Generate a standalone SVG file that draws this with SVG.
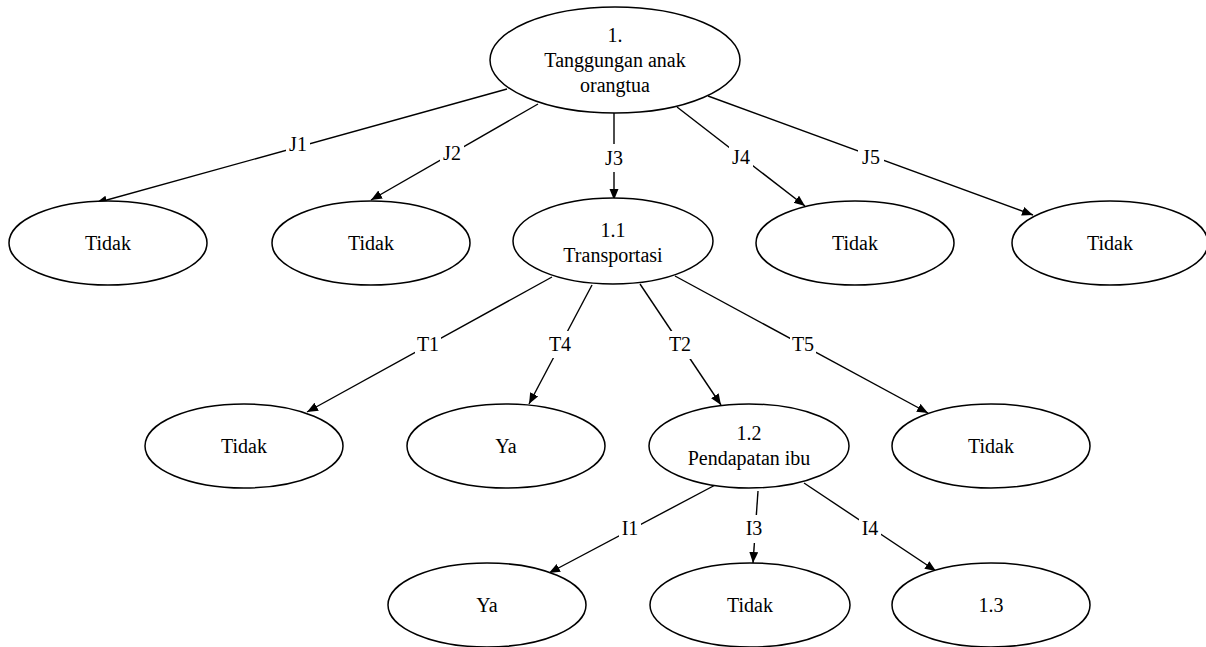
<svg xmlns="http://www.w3.org/2000/svg" width="1206" height="647" viewBox="0 0 1206 647">
<style>
.n ellipse{fill:#fff;stroke:#000;stroke-width:1.5}
text{font-family:"Liberation Serif","Times New Roman",serif;font-size:20px;fill:#000;text-anchor:middle}
.e line{stroke:#000;stroke-width:1.4;marker-end:url(#ah)}
.lb{fill:#fff}
</style>
<defs>
<marker id="ah" markerUnits="userSpaceOnUse" markerWidth="12" markerHeight="10" refX="11" refY="4.5" orient="auto">
<path d="M0,0 L11,4.5 L0,9 z" fill="#000"/>
</marker>
</defs>
<rect width="1206" height="647" fill="#fff"/>
<g id="connectors" class="e">
<line x1="507" y1="89" x2="96" y2="203"/>
<line x1="538" y1="104" x2="371" y2="200"/>
<line x1="614" y1="113" x2="614" y2="200"/>
<line x1="677" y1="107" x2="805" y2="206"/>
<line x1="708" y1="96" x2="1033" y2="215"/>
<line x1="552" y1="277" x2="307" y2="412"/>
<line x1="592" y1="285" x2="529" y2="404"/>
<line x1="640" y1="284" x2="721" y2="405"/>
<line x1="675" y1="276" x2="928" y2="413"/>
<line x1="719" y1="483" x2="549" y2="573"/>
<line x1="758" y1="491" x2="753" y2="563"/>
<line x1="804" y1="483" x2="936" y2="571"/>
<g id="labels">
<rect class="lb" x="286" y="131" width="24" height="26"/><text x="298" y="151">J1</text>
<rect class="lb" x="440" y="140" width="24" height="26"/><text x="452" y="160">J2</text>
<rect class="lb" x="601" y="144" width="26" height="28"/><text x="614" y="165">J3</text>
<rect class="lb" x="729" y="144" width="24" height="26"/><text x="741" y="164">J4</text>
<rect class="lb" x="858" y="144" width="26" height="26"/><text x="871" y="164">J5</text>
<rect class="lb" x="415" y="331" width="26" height="27"/><text x="428" y="351">T1</text>
<rect class="lb" x="547" y="331" width="26" height="27"/><text x="560" y="351">T4</text>
<rect class="lb" x="667" y="331" width="26" height="28"/><text x="680" y="351">T2</text>
<rect class="lb" x="790" y="331" width="26" height="26"/><text x="803" y="351">T5</text>
<rect class="lb" x="619" y="515" width="22" height="26"/><text x="630" y="535">I1</text>
<rect class="lb" x="743" y="515" width="22" height="28"/><text x="754" y="535">I3</text>
<rect class="lb" x="859" y="515" width="22" height="26"/><text x="870" y="535">I4</text>
</g>
</g>
<g id="root" class="n"><ellipse cx="615" cy="60" rx="125" ry="53"/><text x="615" y="42">1.</text><text x="615" y="67">Tanggungan anak</text><text x="615" y="92">orangtua</text></g>
<g id="j1" class="n"><ellipse cx="108" cy="243" rx="99" ry="42"/><text x="108" y="250">Tidak</text></g>
<g id="j2" class="n"><ellipse cx="371" cy="243" rx="99" ry="42"/><text x="371" y="250">Tidak</text></g>
<g id="n11" class="n"><ellipse cx="613" cy="241" rx="100" ry="43"/><text x="613" y="237">1.1</text><text x="613" y="262">Transportasi</text></g>
<g id="j4" class="n"><ellipse cx="855" cy="243" rx="99" ry="42"/><text x="855" y="250">Tidak</text></g>
<g id="j5" class="n"><ellipse cx="1110" cy="243" rx="98" ry="42"/><text x="1110" y="250">Tidak</text></g>
<g id="t1" class="n"><ellipse cx="244" cy="446" rx="99" ry="42"/><text x="244" y="453">Tidak</text></g>
<g id="t4" class="n"><ellipse cx="506" cy="446" rx="99" ry="42"/><text x="506" y="453">Ya</text></g>
<g id="n12" class="n"><ellipse cx="749" cy="446" rx="100" ry="42"/><text x="749" y="440">1.2</text><text x="749" y="465">Pendapatan ibu</text></g>
<g id="t5" class="n"><ellipse cx="991" cy="446" rx="99" ry="42"/><text x="991" y="453">Tidak</text></g>
<g id="i1" class="n"><ellipse cx="487" cy="605" rx="99" ry="42"/><text x="487" y="612">Ya</text></g>
<g id="i3" class="n"><ellipse cx="750" cy="605" rx="100" ry="42"/><text x="750" y="612">Tidak</text></g>
<g id="n13" class="n"><ellipse cx="991" cy="605" rx="99" ry="42"/><text x="991" y="612">1.3</text></g>
</svg>
